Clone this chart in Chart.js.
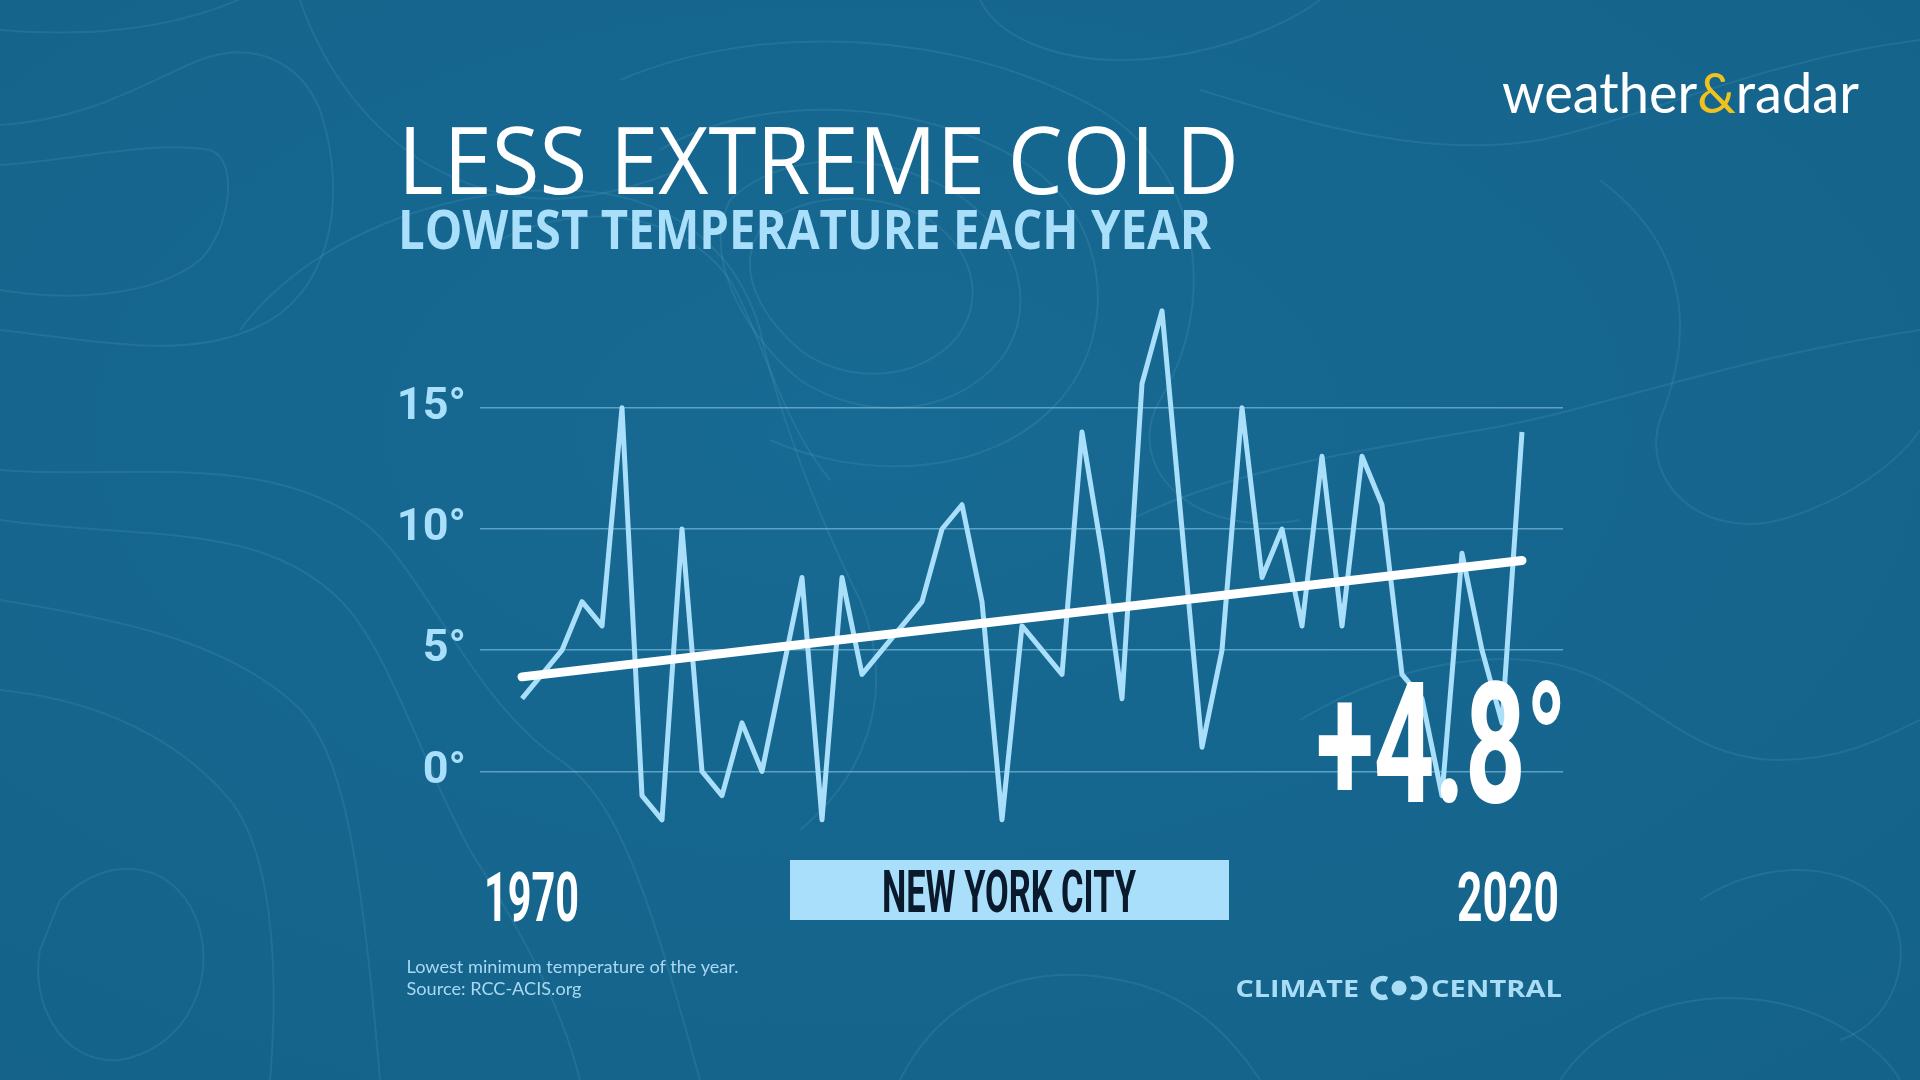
<!DOCTYPE html>
<html>
<head>
<meta charset="utf-8">
<script src="https://cdn.jsdelivr.net/npm/chart.js@4.4.1/dist/chart.umd.min.js"></script>
<style>
html,body{margin:0;padding:0;width:1920px;height:1080px;overflow:hidden;background:#16678f;}
#bg,#fg{position:absolute;left:0;top:0;}
#wrap{position:absolute;left:0;top:0;width:1920px;height:1080px;}
#c{display:block;width:1920px;height:1080px;}
</style>
</head>
<body>
<svg id="bg" width="1920" height="1080" xmlns="http://www.w3.org/2000/svg">
  <defs>
    <radialGradient id="g1" cx="0.45" cy="0.4" r="0.8">
      <stop offset="0" stop-color="#176a93"/>
      <stop offset="1" stop-color="#14628a"/>
    </radialGradient>
  </defs>
  <rect width="1920" height="1080" fill="url(#g1)"/>
  <g fill="none" stroke="rgba(130,195,230,0.12)" stroke-width="2">
    <path d="M0,30 C120,40 200,20 260,-10"/>
    <path d="M0,125 C90,120 150,80 200,60 C250,40 300,60 320,110 C350,200 330,300 250,330 C180,360 90,340 0,330"/>
    <path d="M0,165 C80,160 150,140 210,150 C240,160 230,230 200,260 C150,300 60,300 0,290"/>
    <path d="M0,470 C120,480 260,450 360,520 C420,560 470,700 560,760 C620,800 650,900 700,1080"/>
    <path d="M0,520 C140,540 260,520 340,600 C390,650 420,760 470,850 C520,930 560,1000 580,1080"/>
    <path d="M0,600 C120,620 220,640 290,700 C340,740 360,840 380,1080"/>
    <path d="M0,690 C100,700 180,740 230,800 C270,850 280,960 270,1080"/>
    <path d="M60,900 C110,850 180,860 200,930 C215,990 180,1050 120,1060 C60,1065 30,1000 40,950 Z"/>
    <path d="M300,0 C320,60 360,120 420,160 C520,220 600,200 680,170"/>
    <path d="M240,330 C300,250 420,190 560,190 C680,190 740,260 760,330 C780,420 820,520 860,600 C900,700 860,780 800,830"/>
    <path d="M500,240 C580,200 680,210 730,280 C760,330 780,420 830,480"/>
    <path d="M730,200 C780,150 880,150 950,190 C1020,230 1040,310 1000,360 C950,420 860,420 800,380 C750,340 700,260 730,200 Z"/>
    <path d="M760,230 C800,190 880,190 930,220 C980,255 985,310 950,345 C905,385 840,380 800,350 C760,315 735,270 760,230 Z"/>
    <path d="M660,150 C760,90 920,100 1020,160 C1110,215 1120,330 1060,400 C990,480 860,480 770,440"/>
    <path d="M620,80 C760,20 960,30 1100,110 C1200,170 1220,300 1160,400 C1120,470 1200,540 1300,520"/>
    <path d="M980,0 C1000,40 1060,60 1120,60 C1200,60 1280,30 1320,0"/>
    <path d="M1200,90 C1300,120 1420,160 1540,140 C1640,120 1760,60 1920,40"/>
    <path d="M1130,520 C1230,470 1360,450 1480,430 C1600,410 1720,360 1920,330"/>
    <path d="M1300,720 C1400,660 1520,640 1600,680 C1660,710 1700,760 1780,760 C1840,760 1880,740 1920,720"/>
    <path d="M1600,180 C1680,240 1700,320 1660,420 C1640,480 1700,540 1780,520 C1850,500 1900,460 1920,430"/>
    <path d="M1700,900 C1760,860 1840,860 1880,900 C1920,940 1900,1020 1840,1040"/>
    <path d="M900,1080 C940,1000 1020,960 1120,980 C1200,995 1240,1050 1260,1080"/>
    <path d="M1560,1080 C1600,1020 1680,990 1760,1000 C1840,1010 1890,1060 1900,1080"/>
  </g>
</svg>
<div id="wrap"><canvas id="c" width="1920" height="1080"></canvas></div>
<svg id="fg" width="1920" height="1080" xmlns="http://www.w3.org/2000/svg">
  <text x="398" y="193.5" font-family="Open Sans, sans-serif" font-size="94" fill="#ffffff" textLength="841" lengthAdjust="spacingAndGlyphs">LESS EXTREME COLD</text>
  <text x="398" y="248.6" font-family="Open Sans, sans-serif" font-weight="700" font-size="53" fill="#a9dffa" textLength="813" lengthAdjust="spacingAndGlyphs">LOWEST TEMPERATURE EACH YEAR</text>
  <text x="1502" y="113" font-family="Lato, sans-serif" font-size="56" fill="#ffffff" textLength="357" lengthAdjust="spacingAndGlyphs">weather<tspan fill="#f1c21f">&amp;</tspan>radar</text>
  <text x="484" y="921" font-family="Roboto, sans-serif" font-weight="700" font-size="68" fill="#ffffff" textLength="95" lengthAdjust="spacingAndGlyphs">1970</text>
  <text x="1457" y="921" font-family="Roboto, sans-serif" font-weight="700" font-size="68" fill="#ffffff" textLength="102" lengthAdjust="spacingAndGlyphs">2020</text>
  <rect x="790" y="860" width="439" height="60" fill="#a9dffa"/>
  <text x="882" y="912" font-family="Roboto, sans-serif" font-weight="700" font-size="60" fill="#0a192b" textLength="254" lengthAdjust="spacingAndGlyphs">NEW YORK CITY</text>
  <text x="1316" y="802" font-family="Roboto, sans-serif" font-weight="700" font-size="168" fill="#ffffff" textLength="251" lengthAdjust="spacingAndGlyphs">+4.8°</text>
  <text x="406.5" y="972.5" font-family="Lato, sans-serif" font-size="17" fill="#a9d9f2" textLength="332" lengthAdjust="spacingAndGlyphs">Lowest minimum temperature of the year.</text>
  <text x="406.5" y="994.5" font-family="Lato, sans-serif" font-size="17" fill="#a9d9f2" textLength="175" lengthAdjust="spacingAndGlyphs">Source: RCC-ACIS.org</text>
  <text x="1235.5" y="997" font-family="Open Sans, sans-serif" font-weight="700" font-size="23" fill="#a9dcf5" textLength="123.5" lengthAdjust="spacingAndGlyphs">CLIMATE</text>
  <text x="1431" y="997" font-family="Open Sans, sans-serif" font-weight="700" font-size="23" fill="#a9dcf5" textLength="131" lengthAdjust="spacingAndGlyphs">CENTRAL</text>
  <g fill="none" stroke="#a9dcf5" stroke-width="5.5">
    <path d="M1387,979.5 A9.5,9.5 0 1 0 1387,996.5"/>
    <path d="M1411,979.5 A9.5,9.5 0 1 1 1411,996.5"/>
  </g>
  <circle cx="1399" cy="988" r="7.5" fill="#a9dcf5"/>
</svg>
<script>
// ---- data ----
const years = [1970,1971,1972,1973,1974,1975,1976,1977,1978,1979,
               1980,1981,1982,1983,1984,1985,1986,1987,1988,1989,
               1990,1991,1992,1993,1994,1995,1996,1997,1998,1999,
               2000,2001,2002,2003,2004,2005,2006,2007,2008,2009,
               2010,2011,2012,2013,2014,2015,2016,2017,2018,2019,2020];
const lowestTemps = [3,4,5,7,6,15,-1,-2,10,0,
                     -1,2,0,4,8,-2,8,4,5,6,
                     7,10,11,7,-2,6,5,4,14,9,
                     3,16,19,10,1,5,15,8,10,6,
                     13,6,13,11,4,3,-1,9,5,2,14];
const trendYears = [1970, 2020];
const trendTemps = [3.9, 8.7];
const yTickValues = [0, 5, 10, 15];
const yTickLabels = ['0°', '5°', '10°', '15°'];

const tempPoints = years.map((y, i) => ({x: y, y: lowestTemps[i]}));
const trendPoints = trendYears.map((y, i) => ({x: y, y: trendTemps[i]}));

new Chart(document.getElementById('c'), {
  type: 'line',
  data: {
    datasets: [
      {
        label: 'Trend',
        data: trendPoints,
        borderColor: '#ffffff',
        borderWidth: 9,
        borderCapStyle: 'round',
        pointRadius: 0,
        tension: 0,
        order: 0
      },
      {
        label: 'Lowest temperature',
        data: tempPoints,
        borderColor: '#a9dffa',
        borderWidth: 5,
        borderJoinStyle: 'round',
        pointRadius: 0,
        tension: 0,
        order: 1
      }
    ]
  },
  options: {
    responsive: false,
    maintainAspectRatio: false,
    animation: false,
    devicePixelRatio: 1,
    layout: { padding: { left: 380, right: 357, top: 286.6, bottom: 235.9 } },
    plugins: { legend: { display: false }, tooltip: { enabled: false }, title: { display: false } },
    scales: {
      x: { type: 'linear', min: 1967.9, max: 2022.05, display: false },
      y: {
        min: -3, max: 20,
        afterBuildTicks: (axis) => { axis.ticks = yTickValues.map(v => ({ value: v })); },
        afterFit: (axis) => { axis.width = 100; },
        border: { display: false },
        grid: { color: 'rgba(150,212,242,0.55)', lineWidth: 1.5, drawTicks: false },
        ticks: {
          padding: 14,
          color: '#a9dffa',
          font: { family: 'Roboto', weight: 'bold', size: 45 },
          callback: (v, i) => yTickLabels[i]
        }
      }
    }
  }
});
</script>
</body>
</html>
